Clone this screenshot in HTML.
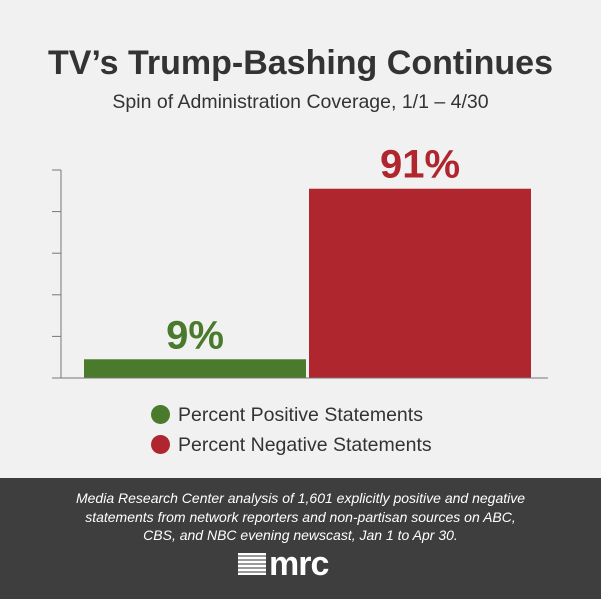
<!DOCTYPE html>
<html><head><meta charset="utf-8"><style>
body{margin:0;width:601px;height:599px;background:#f1f1f1;font-family:"Liberation Sans",sans-serif;position:relative;overflow:hidden}
.t{position:absolute;left:0;width:601px;text-align:center}
</style></head><body>
<div class="t" style="top:44px;font-size:34px;font-weight:bold;color:#333">TV’s Trump-Bashing Continues</div>
<div class="t" style="top:91px;font-size:19.5px;color:#333">Spin of Administration Coverage, 1/1 – 4/30</div>
<svg id="c" width="601" height="470" style="position:absolute;left:0;top:0"></svg>
<div style="position:absolute;left:151px;top:400px;font-size:19.5px;color:#333;line-height:30px">
<div><span style="display:inline-block;width:19px;height:19px;border-radius:50%;background:#4a7a2c;vertical-align:-3px;margin-right:8px"></span>Percent Positive Statements</div>
<div><span style="display:inline-block;width:19px;height:19px;border-radius:50%;background:#b0262e;vertical-align:-3px;margin-right:8px"></span>Percent Negative Statements</div>
</div>
<div style="position:absolute;left:0;top:478px;width:601px;height:121px;background:#3e3e3e">
<div class="t" style="top:11px;font-size:14px;font-style:italic;color:#fff;line-height:18.5px">Media Research Center analysis of 1,601 explicitly positive and negative<br>statements from network reporters and non-partisan sources on ABC,<br>CBS, and NBC evening newscast, Jan 1 to Apr 30.</div>
<div style="position:absolute;left:238px;top:74px;height:24px;display:flex;align-items:center">
<span style="display:inline-block;width:28px;height:22px;background:repeating-linear-gradient(#fff 0 2px,#999 2px 4px);margin-right:3px"></span>
<span style="font-size:34px;font-weight:bold;color:#fff;line-height:24px;letter-spacing:-1px">mrc</span></div>
</div>
<script>
const categories=["Positive","Negative"];
const values=[9,91];
const labels=["9%","91%"];
const colors=["#4a7a2c","#b0262e"];
const svg=document.getElementById('c');const NS='http://www.w3.org/2000/svg';
const y0=378,y1=170,yMax=100;
const y=v=>y0-(v/yMax)*(y0-y1);
const barX=[84,309],barW=222;
function mk(t,a){const e=document.createElementNS(NS,t);for(const k in a)e.setAttribute(k,a[k]);svg.appendChild(e);return e;}
const ax=mk('line',{x1:61,y1:y1,x2:61,y2:y0,stroke:'#777','stroke-width':1});


for(let v=0;v<=100;v+=20){const tk=mk('line',{x1:52,x2:61,y1:y(v),y2:y(v),stroke:'#777','stroke-width':1});

}
categories.forEach((c,i)=>{
const r=mk('rect',{x:barX[i],y:y(values[i]),width:barW,height:y0-y(values[i]),fill:colors[i]});


const t=mk('text',{x:barX[i]+barW/2,y:y(values[i])-11,'text-anchor':'middle','font-size':40,'font-weight':'bold',fill:colors[i],'font-family':'Liberation Sans, sans-serif'});
t.textContent=labels[i];


});
const bl=mk('line',{x1:52,x2:548,y1:y0,y2:y0,stroke:'#777','stroke-width':1});


</script>
</body></html>
